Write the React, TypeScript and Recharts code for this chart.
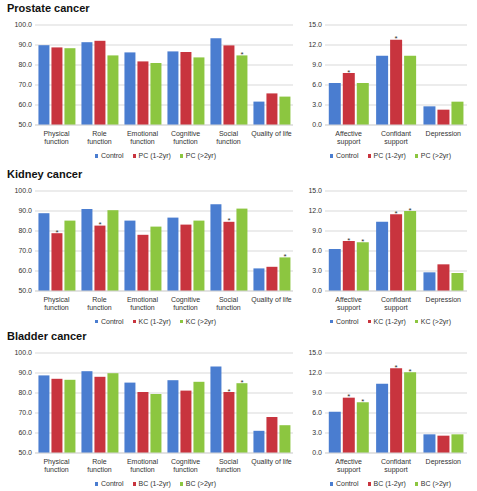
import React from 'react';
import { BarChart, Bar, XAxis, YAxis, CartesianGrid, Legend, LabelList } from 'recharts';

const functionCats = ['Physical\nfunction', 'Role\nfunction', 'Emotional\nfunction', 'Cognitive\nfunction', 'Social\nfunction', 'Quality of life'];
const supportCats = ['Affective\nsupport', 'Confidant\nsupport', 'Depression'];
const functionTicks = [50, 60, 70, 80, 90, 100];
const supportTicks = [0, 3, 6, 9, 12, 15];

// Prostate cancer
const pcFnControl = [89.9, 91.4, 86.3, 86.8, 93.4, 61.7];
const pcFnEarly = [88.8, 92.1, 81.8, 86.5, 89.8, 65.8];
const pcFnLate = [88.4, 84.8, 81.0, 83.8, 84.8, 64.2];
const pcFnStarEarly = [0, 0, 0, 0, 0, 0];
const pcFnStarLate = [0, 0, 0, 0, 1, 0];
const pcSupControl = [6.3, 10.4, 2.8];
const pcSupEarly = [7.8, 12.8, 2.3];
const pcSupLate = [6.3, 10.4, 3.5];
const pcSupStarEarly = [1, 1, 0];
const pcSupStarLate = [0, 0, 0];

// Kidney cancer
const kcFnControl = [88.9, 91.0, 85.2, 86.7, 93.4, 61.3];
const kcFnEarly = [78.9, 82.7, 78.1, 83.2, 84.6, 62.1];
const kcFnLate = [85.2, 90.4, 82.2, 85.2, 91.2, 66.8];
const kcFnStarEarly = [1, 1, 0, 0, 1, 0];
const kcFnStarLate = [0, 0, 0, 0, 0, 1];
const kcSupControl = [6.3, 10.4, 2.8];
const kcSupEarly = [7.5, 11.5, 4.0];
const kcSupLate = [7.3, 12.0, 2.7];
const kcSupStarEarly = [1, 1, 0];
const kcSupStarLate = [1, 1, 0];

// Bladder cancer
const bcFnControl = [88.8, 90.9, 85.2, 86.4, 93.3, 61.1];
const bcFnEarly = [87.1, 88.1, 80.5, 81.2, 80.5, 68.0];
const bcFnLate = [86.6, 89.9, 79.5, 85.6, 84.9, 63.9];
const bcFnStarEarly = [0, 0, 0, 0, 1, 0];
const bcFnStarLate = [0, 0, 0, 0, 1, 0];
const bcSupControl = [6.2, 10.4, 2.8];
const bcSupEarly = [8.3, 12.7, 2.6];
const bcSupLate = [7.6, 12.1, 2.8];
const bcSupStarEarly = [1, 1, 0];
const bcSupStarLate = [1, 1, 0];

const BLUE = '#4a7dd0';
const RED = '#c8343e';
const GREEN = '#8cc640';
const TEXT = '#333';
const GRID = '#d9d9d9';

function buildRows(cats: string[], a: number[], b: number[], c: number[], sb: number[], sc: number[]) {
  return cats.map((name, i) => ({ name, control: a[i], early: b[i], late: c[i], sEarly: sb[i], sLate: sc[i] }));
}

function CatTick({ x, y, payload }: any) {
  const lines = String(payload.value).split('\n');
  return (
    <text x={x} y={y} textAnchor="middle" fontSize={7} fill={TEXT}>
      {lines.map((l, i) => (
        <tspan key={i} x={x} dy={i === 0 ? 10.5 : 8}>{l}</tspan>
      ))}
    </text>
  );
}

function Star(props: any) {
  const { x, y, width, value } = props;
  if (!value) return null;
  return (
    <text x={Number(x) + Number(width) / 2} y={Number(y) + 1.5} textAnchor="middle" fontSize={8} fill={TEXT}>*</text>
  );
}

// legend: small squares, tight spacing like the Excel original
function LegendContent({ payload }: any) {
  return (
    <div style={{ display: 'flex', justifyContent: 'center', alignItems: 'center', height: 10, lineHeight: '10px', fontSize: 7, color: TEXT }}>
      {(payload || []).map((p: any, i: number) => (
        <span key={i} style={{ display: 'flex', alignItems: 'center', marginLeft: i ? 9 : 0 }}>
          <span style={{ display: 'inline-block', width: 3.5, height: 3.5, background: p.color, marginRight: 2.5 }} />
          {p.value}
        </span>
      ))}
    </div>
  );
}

function Panel({ data, left, top, width, yWidth, marginRight, legendShift, domain, ticks, prefix }: any) {
  return (
    <div style={{ position: 'absolute', left, top }}>
      <BarChart
        width={width}
        height={141}
        data={data}
        margin={{ top: 5, right: marginRight, bottom: 0, left: 0 }}
        barCategoryGap="8%"
        barGap={2}
      >
        <CartesianGrid vertical={false} stroke={GRID} />
        <XAxis
          dataKey="name"
          height={26}
          tick={<CatTick />}
          tickLine={false}
          tickSize={0}
          tickMargin={0}
          axisLine={{ stroke: GRID }}
          interval={0}
        />
        <YAxis
          width={yWidth}
          domain={domain}
          ticks={ticks}
          interval={0}
          tickFormatter={(v: number) => v.toFixed(1)}
          tick={{ fontSize: 7, fill: TEXT }}
          tickLine={false}
          axisLine={false}
          tickSize={0}
          tickMargin={3}
        />
        <Legend
          verticalAlign="bottom"
          align="center"
          itemSorter="dataKey"
          content={<LegendContent />}
          wrapperStyle={{ left: legendShift }}
        />
        <Bar dataKey="control" name="Control" fill={BLUE} isAnimationActive={false} />
        <Bar dataKey="early" name={`${prefix} (1-2yr)`} fill={RED} isAnimationActive={false}>
          <LabelList dataKey="sEarly" content={<Star />} />
        </Bar>
        <Bar dataKey="late" name={`${prefix} (>2yr)`} fill={GREEN} isAnimationActive={false}>
          <LabelList dataKey="sLate" content={<Star />} />
        </Bar>
      </BarChart>
    </div>
  );
}

const titleStyle: React.CSSProperties = {
  position: 'absolute',
  left: 7,
  fontSize: 11,
  fontWeight: 'bold',
  lineHeight: '13px',
  color: '#111',
  whiteSpace: 'nowrap',
};

export default function App() {
  const rows = [
    { title: 'Prostate cancer', prefix: 'PC', plotTop: 25, fn: buildRows(functionCats, pcFnControl, pcFnEarly, pcFnLate, pcFnStarEarly, pcFnStarLate), sup: buildRows(supportCats, pcSupControl, pcSupEarly, pcSupLate, pcSupStarEarly, pcSupStarLate) },
    { title: 'Kidney cancer', prefix: 'KC', plotTop: 190.5, fn: buildRows(functionCats, kcFnControl, kcFnEarly, kcFnLate, kcFnStarEarly, kcFnStarLate), sup: buildRows(supportCats, kcSupControl, kcSupEarly, kcSupLate, kcSupStarEarly, kcSupStarLate) },
    { title: 'Bladder cancer', prefix: 'BC', plotTop: 353, fn: buildRows(functionCats, bcFnControl, bcFnEarly, bcFnLate, bcFnStarEarly, bcFnStarLate), sup: buildRows(supportCats, bcSupControl, bcSupEarly, bcSupLate, bcSupStarEarly, bcSupStarLate) },
  ];
  return (
    <div style={{ position: 'absolute', left: 0, top: 0, width: 477, height: 491, background: '#fff', fontFamily: '"Liberation Sans", Arial, sans-serif', overflow: 'hidden' }}>
      {rows.map((r) => (
        <React.Fragment key={r.title}>
          <div style={{ ...titleStyle, top: r.plotTop - 23 }}>{r.title}</div>
          <Panel data={r.fn} left={0} top={r.plotTop - 5} width={300} yWidth={35} marginRight={7} legendShift={9} domain={[50, 100]} ticks={functionTicks} prefix={r.prefix} />
          <Panel data={r.sup} left={300} top={r.plotTop - 5} width={177} yWidth={25} marginRight={10} legendShift={7} domain={[0, 15]} ticks={supportTicks} prefix={r.prefix} />
        </React.Fragment>
      ))}
    </div>
  );
}
